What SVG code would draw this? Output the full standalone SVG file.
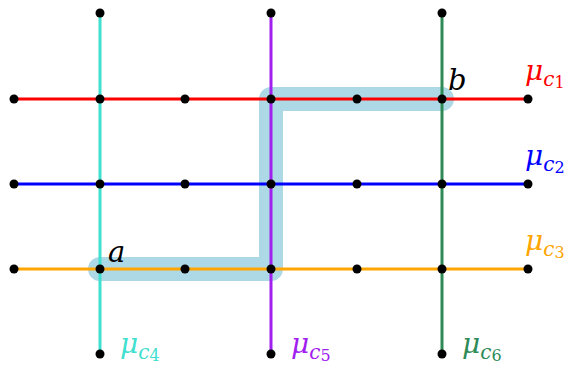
<svg xmlns="http://www.w3.org/2000/svg" width="577" height="365" viewBox="0 0 577 365">
<style>
.ln{stroke-width:3;fill:none}
.dot{fill:#000}
.m{font-family:"DejaVu Serif","Liberation Serif",serif;font-style:italic}
.mu{font-size:28px}
.sub{font-size:20px}
.sub2{font-size:16px;font-style:normal}
</style>
<rect width="577" height="365" fill="#fff"/>
<g id="connectors">
<path d="M100,269 H271 V99 H442" stroke="#add8e6" stroke-width="24" fill="none" stroke-linecap="round" stroke-linejoin="round"/>
<line class="ln" x1="14" y1="99" x2="528" y2="99" stroke="#ff0000"/>
<line class="ln" x1="14" y1="184" x2="528" y2="184" stroke="#0000ff"/>
<line class="ln" x1="14" y1="269" x2="528" y2="269" stroke="#ffa500"/>
<line class="ln" x1="100" y1="13" x2="100" y2="354" stroke="#40e0d0"/>
<line class="ln" x1="271" y1="13" x2="271" y2="354" stroke="#a020f0"/>
<line class="ln" x1="442" y1="13" x2="442" y2="354" stroke="#2e8b57"/>
</g>
<g id="nodes">
<g id="top"><circle class="dot" cx="100" cy="13" r="4.5"/><circle class="dot" cx="271" cy="13" r="4.5"/><circle class="dot" cx="442" cy="13" r="4.5"/></g>
<g id="row1"><circle class="dot" cx="14" cy="99" r="4.5"/><circle class="dot" cx="100" cy="99" r="4.5"/><circle class="dot" cx="185" cy="99" r="4.5"/><circle class="dot" cx="271" cy="99" r="4.5"/><circle class="dot" cx="357" cy="99" r="4.5"/><circle class="dot" cx="442" cy="99" r="4.5"/><circle class="dot" cx="528" cy="99" r="4.5"/></g>
<g id="row2"><circle class="dot" cx="14" cy="184" r="4.5"/><circle class="dot" cx="100" cy="184" r="4.5"/><circle class="dot" cx="185" cy="184" r="4.5"/><circle class="dot" cx="271" cy="184" r="4.5"/><circle class="dot" cx="357" cy="184" r="4.5"/><circle class="dot" cx="442" cy="184" r="4.5"/><circle class="dot" cx="528" cy="184" r="4.5"/></g>
<g id="row3"><circle class="dot" cx="14" cy="269" r="4.5"/><circle class="dot" cx="100" cy="269" r="4.5"/><circle class="dot" cx="185" cy="269" r="4.5"/><circle class="dot" cx="271" cy="269" r="4.5"/><circle class="dot" cx="357" cy="269" r="4.5"/><circle class="dot" cx="442" cy="269" r="4.5"/><circle class="dot" cx="528" cy="269" r="4.5"/></g>
<g id="bottom"><circle class="dot" cx="100" cy="354" r="4.5"/><circle class="dot" cx="271" cy="354" r="4.5"/><circle class="dot" cx="442" cy="354" r="4.5"/></g>
</g>
<g id="labels" class="m">
<text x="108" y="262" font-size="29">a</text>
<text x="448" y="90" font-size="29">b</text>
<text x="525" y="80" fill="#ff0000"><tspan class="mu">μ</tspan><tspan class="sub" dy="6">c</tspan><tspan class="sub2" dy="2">1</tspan></text>
<text x="525" y="165" fill="#0000ff"><tspan class="mu">μ</tspan><tspan class="sub" dy="6">c</tspan><tspan class="sub2" dy="2">2</tspan></text>
<text x="525" y="250" fill="#ffa500"><tspan class="mu">μ</tspan><tspan class="sub" dy="6">c</tspan><tspan class="sub2" dy="2">3</tspan></text>
<text x="120" y="353" fill="#40e0d0"><tspan class="mu">μ</tspan><tspan class="sub" dy="6">c</tspan><tspan class="sub2" dy="2">4</tspan></text>
<text x="291" y="353" fill="#a020f0"><tspan class="mu">μ</tspan><tspan class="sub" dy="6">c</tspan><tspan class="sub2" dy="2">5</tspan></text>
<text x="462" y="353" fill="#2e8b57"><tspan class="mu">μ</tspan><tspan class="sub" dy="6">c</tspan><tspan class="sub2" dy="2">6</tspan></text>
</g>
</svg>
